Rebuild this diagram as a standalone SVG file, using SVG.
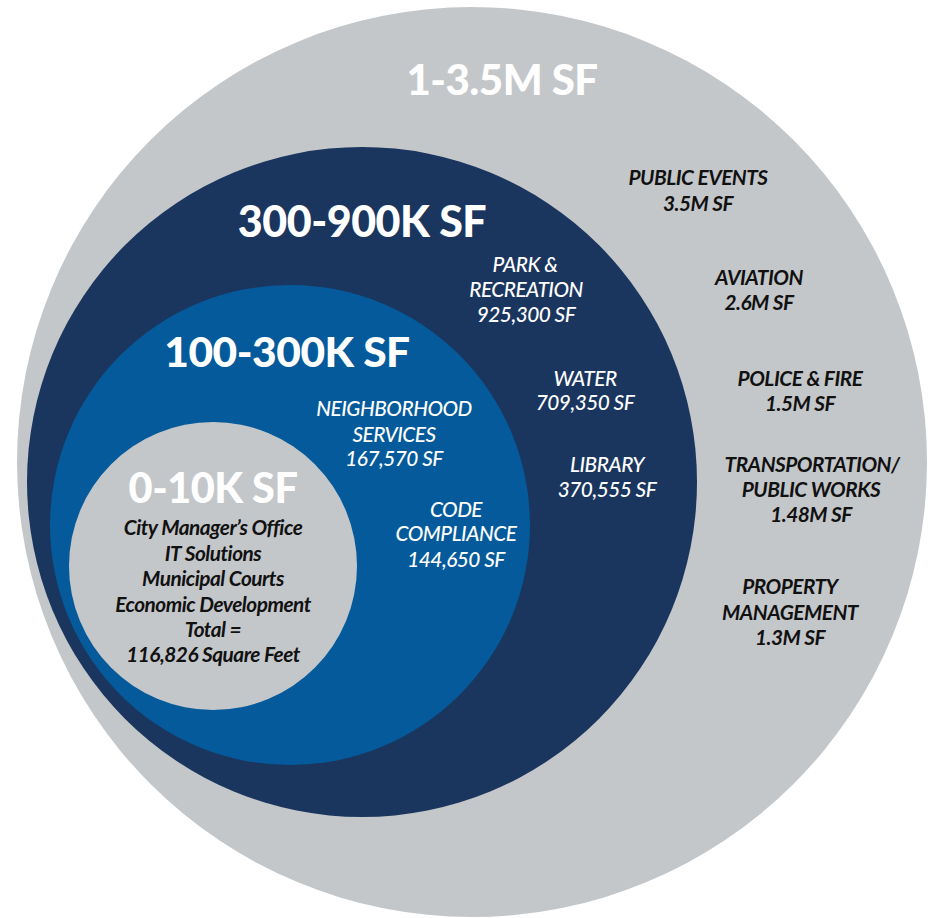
<svg xmlns="http://www.w3.org/2000/svg" width="934" height="918" viewBox="0 0 934 918">
<style>
.head{font-family:Lato,"Liberation Sans",sans-serif;font-weight:900;fill:#ffffff;text-anchor:middle;letter-spacing:-0.5px}
.wl{font-family:Lato,"Liberation Sans",sans-serif;font-style:italic;font-weight:500;font-size:20.8px;fill:#ffffff;text-anchor:middle;letter-spacing:-0.5px}
.bl{font-family:Lato,"Liberation Sans",sans-serif;font-style:italic;font-weight:700;font-size:20.8px;fill:#111111;text-anchor:middle;letter-spacing:-0.5px}
</style>
<rect width="934" height="918" fill="#ffffff"/>
<g id="ring-1-3.5M">
<circle cx="472" cy="462" r="455" fill="#c4c7ca"/>
<text class="head" x="502" y="95" font-size="42">1-3.5M SF</text>
<text class="bl" x="698" y="185">PUBLIC EVENTS</text>
<text class="bl" x="698" y="211">3.5M SF</text>
<text class="bl" x="759" y="285">AVIATION</text>
<text class="bl" x="759" y="310">2.6M SF</text>
<text class="bl" x="800" y="386">POLICE &amp; FIRE</text>
<text class="bl" x="800" y="411">1.5M SF</text>
<text class="bl" x="812" y="472">TRANSPORTATION/</text>
<text class="bl" x="811" y="497">PUBLIC WORKS</text>
<text class="bl" x="811" y="522">1.48M SF</text>
<text class="bl" x="790" y="594">PROPERTY</text>
<text class="bl" x="790" y="620">MANAGEMENT</text>
<text class="bl" x="790" y="645">1.3M SF</text>
</g>
<g id="ring-300-900K">
<circle cx="362" cy="482" r="335" fill="#1a365f"/>
<text class="head" x="362" y="237" font-size="43">300-900K SF</text>
<text class="wl" x="525" y="272">PARK &amp;</text>
<text class="wl" x="526" y="297">RECREATION</text>
<text class="wl" x="526" y="322">925,300 SF</text>
<text class="wl" x="585" y="386">WATER</text>
<text class="wl" x="585" y="410">709,350 SF</text>
<text class="wl" x="607" y="472">LIBRARY</text>
<text class="wl" x="607" y="497">370,555 SF</text>
</g>
<g id="ring-100-300K">
<circle cx="290" cy="525" r="240" fill="#045a9a"/>
<text class="head" x="287" y="367" font-size="42.5">100-300K SF</text>
<text class="wl" x="394" y="416">NEIGHBORHOOD</text>
<text class="wl" x="394" y="442">SERVICES</text>
<text class="wl" x="394" y="466">167,570 SF</text>
<text class="wl" x="456" y="517">CODE</text>
<text class="wl" x="456" y="541">COMPLIANCE</text>
<text class="wl" x="456" y="567">144,650 SF</text>
</g>
<g id="ring-0-10K">
<circle cx="213" cy="566" r="144" fill="#c4c7ca"/>
<text class="head" x="213" y="503" font-size="41.5">0-10K SF</text>
<text class="bl" x="213" y="535">City Manager’s Office</text>
<text class="bl" x="213" y="561">IT Solutions</text>
<text class="bl" x="213" y="586">Municipal Courts</text>
<text class="bl" x="213" y="612">Economic Development</text>
<text class="bl" x="213" y="637">Total =</text>
<text class="bl" x="213" y="662">116,826 Square Feet</text>
</g>
</svg>
